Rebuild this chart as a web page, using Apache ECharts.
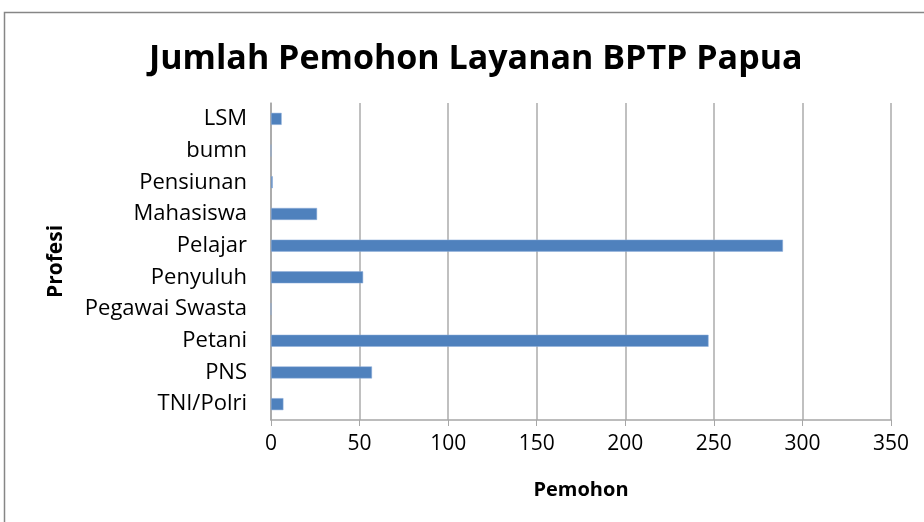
<!DOCTYPE html>
<html>
<head>
<meta charset="utf-8">
<script src="https://cdn.jsdelivr.net/npm/echarts@6/dist/echarts.min.js"></script>
<style>
  html, body { margin: 0; padding: 0; background: #fff; }
  #chart { width: 924px; height: 522px; }
</style>
</head>
<body>
<div id="chart"></div>
<script>
// profesi, bottom to top
var profesi = ['TNI/Polri', 'PNS', 'Petani', 'Pegawai Swasta', 'Penyuluh', 'Pelajar', 'Mahasiswa', 'Pensiunan', 'bumn', 'LSM'];
var pemohon = [7, 57, 247, 0, 52, 289, 26, 1, 0, 6];
var xTicks = { min: 0, max: 350, interval: 50 };

var font = 'Open Sans';
var myChart = echarts.init(document.getElementById('chart'));

var option = {
  backgroundColor: '#fff',
  animation: false,
  title: {
    text: 'Jumlah Pemohon Layanan BPTP Papua',
    left: 144,
    top: 37,
    textStyle: { fontFamily: font, fontSize: 34, fontWeight: 'bold', color: '#000' }
  },
  graphic: [{
    type: 'rect',
    shape: { x: 4.5, y: 12.5, width: 930, height: 530 },
    style: { fill: 'none', stroke: '#868686', lineWidth: 1.5 },
    silent: true
  }],
  grid: { left: 271, right: 33, top: 103, bottom: 102 },
  xAxis: {
    type: 'value',
    min: xTicks.min,
    max: xTicks.max,
    interval: xTicks.interval,
    name: 'Pemohon',
    nameLocation: 'middle',
    nameGap: 60,
    nameTextStyle: { fontFamily: font, fontSize: 20, fontWeight: 'bold', color: '#000' },
    axisLine: { show: true, lineStyle: { color: '#a6a6a6', width: 1.5 } },
    axisTick: { show: true, length: 6, lineStyle: { color: '#a6a6a6' } },
    axisLabel: { fontFamily: font, fontSize: 21, color: '#000', margin: 14 },
    splitLine: { show: true, lineStyle: { color: '#ababab', width: 1.5 } }
  },
  yAxis: {
    type: 'category',
    data: profesi,
    name: 'Profesi',
    nameLocation: 'middle',
    nameGap: 204,
    nameRotate: 90,
    nameTextStyle: { fontFamily: font, fontSize: 21, fontWeight: 'bold', color: '#000' },
    axisLine: { show: true, lineStyle: { color: '#a6a6a6', width: 1.5 } },
    axisTick: { show: false },
    axisLabel: { fontFamily: font, fontSize: 22, color: '#000', margin: 24 }
  },
  series: [{
    type: 'bar',
    data: pemohon,
    barWidth: 12,
    itemStyle: { color: '#4f81bd', borderColor: '#8eaedb', borderWidth: 0.5 }
  }]
};

myChart.setOption(option);
</script>
</body>
</html>
